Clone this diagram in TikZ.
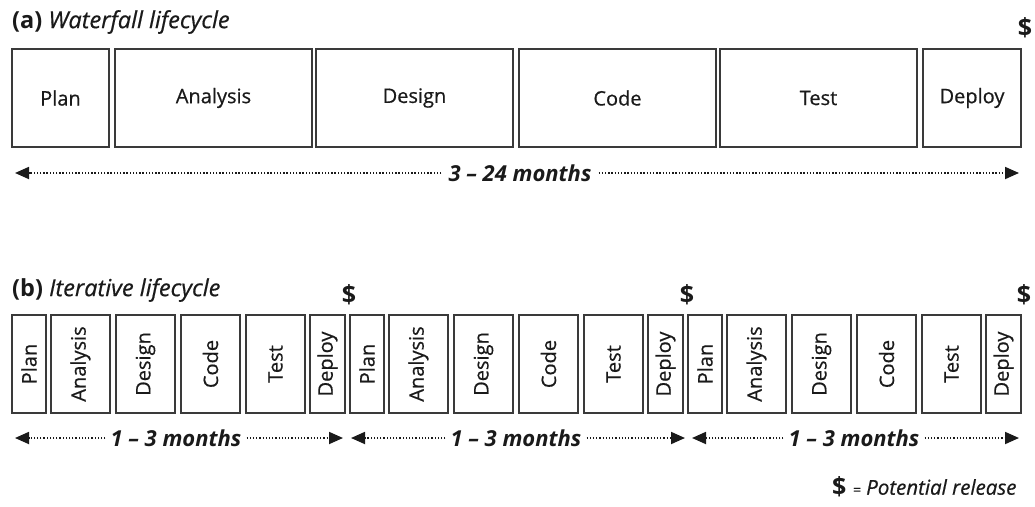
\documentclass[tikz,border=0pt]{standalone}
\usepackage{fontspec}
\setmainfont{Open Sans}
\newfontfamily\med[FakeBold=0.6]{Open Sans}
\usetikzlibrary{arrows.meta}
\definecolor{ink}{HTML}{1A1A1A}
\definecolor{edge}{HTML}{3A3A3A}
\tikzset{
  box/.style={draw=edge, line width=2.6pt, inner sep=0pt, outer sep=0pt, text=ink,
    font=\med\fontsize{20}{22}\selectfont},
  vlabel/.style={text=ink, font=\med\fontsize{20}{22}\selectfont, rotate=90, inner sep=0pt},
  title/.style={anchor=west, inner sep=0pt, text=ink, font=\med\fontsize{23.5}{26}\selectfont},
  span/.style={inner sep=0pt, text=ink, font=\fontsize{22}{24}\selectfont\bfseries\itshape},
  arr/.style={draw=ink, line width=1.8pt, dash pattern=on 1.3pt off 1.9pt,
    -{Triangle[length=14pt,width=12pt]}},
  money/.style={inner sep=0pt, text=ink, font=\fontsize{25}{27}\selectfont\bfseries},
}
\begin{document}
\begin{tikzpicture}[x=1pt,y=-1pt]
\useasboundingbox (0,0) rectangle (1035,506);

% ---------- (a) Waterfall ----------
\node[title] (ta) at (12,22) {{\normalfont\bfseries (a)} \textit{Waterfall lifecycle}};
\foreach \n/\l/\r/\t in {wPlan/12/109/Plan, wAnalysis/115/312/Analysis, wDesign/316/513/Design,
    wCode/519/716/Code, wTest/720/917/Test, wDeploy/923/1021/Deploy}{
  \pgfmathsetmacro{\cx}{(\l+\r)/2}
  \pgfmathsetmacro{\w}{\r-\l}
  \node[box, minimum width=\w pt, minimum height=98pt] (\n) at (\cx,98) {\t};
}
\node[money] (da) at (1025,28) {\$};
\node[span] (sa) at (520,173) {3 – 24 months};
\coordinate (saL) at (15,173);
\coordinate (saR) at (1019,173);
\draw[arr] ([xshift=-7pt]sa.west) -- (saL);
\draw[arr] ([xshift=7pt]sa.east) -- (saR);

% ---------- (b) Iterative ----------
\node[title] (tb) at (12,290) {{\normalfont\bfseries (b)} \textit{Iterative lifecycle}};
\foreach \g/\ox in {1/12,2/350,3/688}{
  \foreach \n/\l/\r/\t in {Plan/0/34/Plan, Analysis/39/98/Analysis, Design/104/163/Design,
      Code/169/228/Code, Test/234/293/Test, Deploy/298/333/Deploy}{
    \pgfmathsetmacro{\cx}{\ox+(\l+\r)/2}
    \pgfmathsetmacro{\w}{\r-\l}
    \node[box, minimum width=\w pt, minimum height=98pt] (b\g\n) at (\cx,364) {};
    \node[vlabel] (l\g\n) at (b\g\n.center) {\t};
  }
}
\node[money] (d1) at (349,295) {\$};
\node[money] (d2) at (687,295) {\$};
\node[money] (d3) at (1024,295) {\$};

\foreach \g/\c/\a/\b in {1/176/15/343, 2/516/351/685, 3/854/692/1019}{
  \node[span] (s\g) at (\c,438) {1 – 3 months};
  \coordinate (s\g L) at (\a,438);
  \coordinate (s\g R) at (\b,438);
  \draw[arr] ([xshift=-5pt]s\g.west) -- (s\g L);
  \draw[arr] ([xshift=5pt]s\g.east) -- (s\g R);
}

% ---------- legend ----------
\node[money, anchor=west] (lg) at (832,487) {\$};
\node[anchor=west, inner sep=0pt, text=ink, font=\med\fontsize{20.5}{22}\selectfont\itshape] (lt) at ([xshift=6pt]lg.east) {{\fontsize{14}{16}\selectfont=} Potential release};
\end{tikzpicture}
\end{document}
